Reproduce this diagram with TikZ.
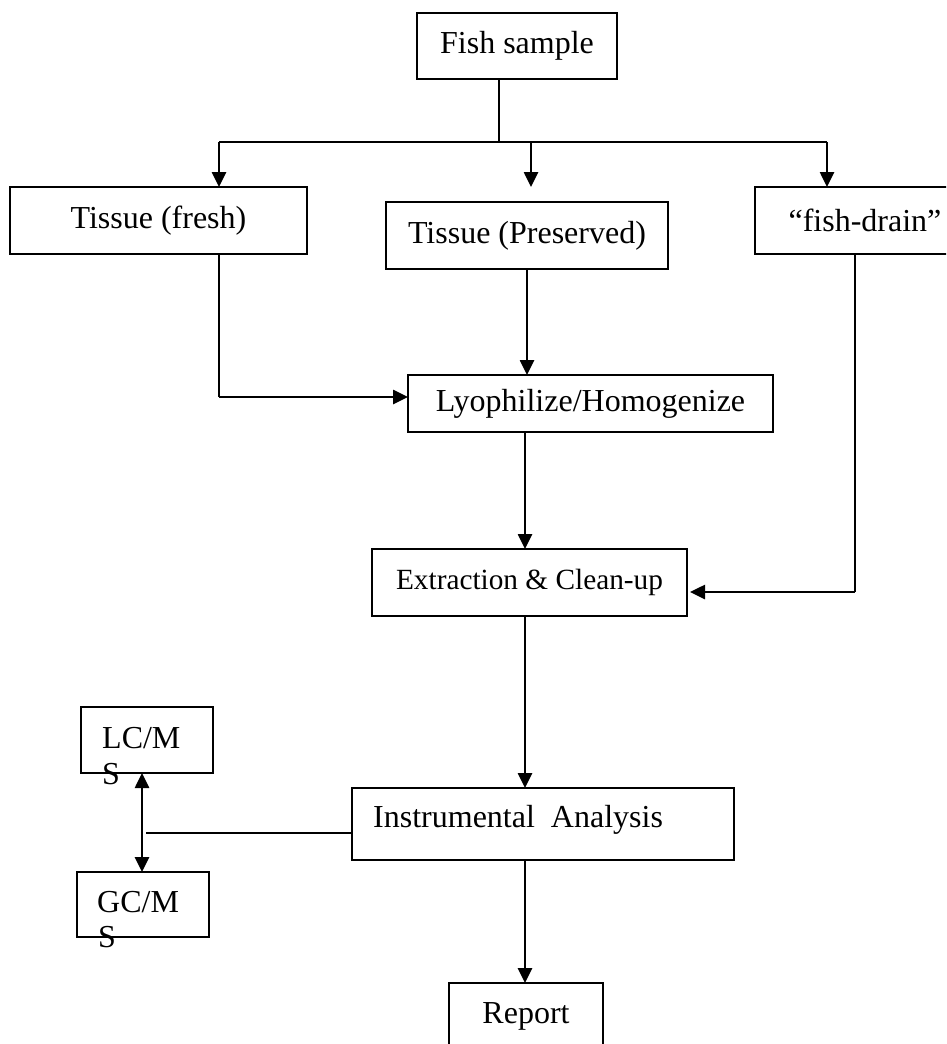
\documentclass[tikz,border=0pt]{standalone}
\usepackage{fontspec}
\setmainfont{Liberation Serif}
\usetikzlibrary{arrows.meta}
\begin{document}
\begin{tikzpicture}[x=1pt,y=-1pt,
  box/.style={draw=black,line width=1.8pt,inner sep=0pt,outer sep=0pt,font=\fontsize{32}{36}\selectfont},
  thinline/.style={line width=1.2pt,draw=black},
  boldline/.style={line width=2.6pt},
  arr/.style={boldline,-{Triangle[length=15pt,width=14pt]}},
  darr/.style={boldline,{Triangle[length=15pt,width=14pt]}-{Triangle[length=15pt,width=14pt]}},
  txt/.style={inner sep=0pt,font=\fontsize{32}{36}\selectfont}
]
\useasboundingbox (0,0) rectangle (946,1044);
\clip (0,0) rectangle (946,1044);

% boxes
\node[box,minimum width=200pt,minimum height=66pt] (fish) at (517,46) {Fish sample};
\node[box,minimum width=297pt,minimum height=67pt] (fresh) at (158.5,220.5) {Tissue (fresh)};
\node[box,minimum width=282pt,minimum height=67pt] (pres) at (527,235.5) {Tissue (Preserved)};
\node[box,minimum width=220pt,minimum height=67pt] (drain) at (865,220.5) {“fish-drain”\hspace{21pt}};
\node[box,minimum width=365pt,minimum height=57pt] (lyo) at (590.5,403.5) {Lyophilize/Homogenize};
\node[box,minimum width=315pt,minimum height=67pt,font=\fontsize{29.3}{34}\selectfont] (ext) at (529.5,582.5) {Extraction \& Clean-up};
\node[box,minimum width=382pt,minimum height=72pt] (ins) at (543,824) {};
\node[txt,anchor=base west] (instxt) at (373,827) {Instrumental~ Analysis};
\node[box,minimum width=132pt,minimum height=66pt] (lc) at (147,740) {};
\node[txt,anchor=base west] (lct1) at (102,748) {LC/M};
\node[txt,anchor=base west] (lct2) at (102,784) {S};
\node[box,minimum width=132pt,minimum height=65pt] (gc) at (143,904.5) {};
\node[txt,anchor=base west] (gct1) at (97,912) {GC/M};
\node[txt,anchor=base west] (gct2) at (98,947) {S};
\node[box,minimum width=154pt,minimum height=80pt] (rep) at (526,1023) {};
\node[txt,anchor=base] (reptxt) at (526,1023) {Report};

% coordinates
\coordinate (split) at (499,142);
\coordinate (hl) at (219,142);
\coordinate (hm) at (531,142);
\coordinate (hr) at (827,142);
\coordinate (pfree) at (531,187);
\coordinate (fbend) at (219,397);
\coordinate (dbend) at (855,592);
\coordinate (sp) at (525,500);
\coordinate (lg) at (146,833);
\coordinate (dx) at (142,833);

% connectors
\draw[thinline] (fish.south -| split) -- (split);
\draw[thinline] (hl) -- (hr);
\draw[arr] (hl) -- (fresh.north -| hl);
\draw[arr] (hm) -- (pfree);
\draw[arr] (hr) -- (drain.north -| hr);
\draw[thinline] (fresh.south -| fbend) -- (fbend);
\draw[arr] (fbend) -- (lyo.west |- fbend);
\draw[arr] (pres.south) -- (lyo.north -| pres.south);
\draw[arr] (lyo.south -| sp) -- (ext.north -| sp);
\draw[thinline] (drain.south -| dbend) -- (dbend);
\draw[arr] (dbend) -- ([xshift=3pt]ext.east |- dbend);
\draw[arr] (ext.south -| sp) -- (ins.north -| sp);
\draw[arr] (ins.south -| sp) -- (rep.north -| sp);
\draw[thinline] (ins.west |- lg) -- (lg);
\draw[darr] (lc.south -| dx) -- (gc.north -| dx);
\end{tikzpicture}
\end{document}
